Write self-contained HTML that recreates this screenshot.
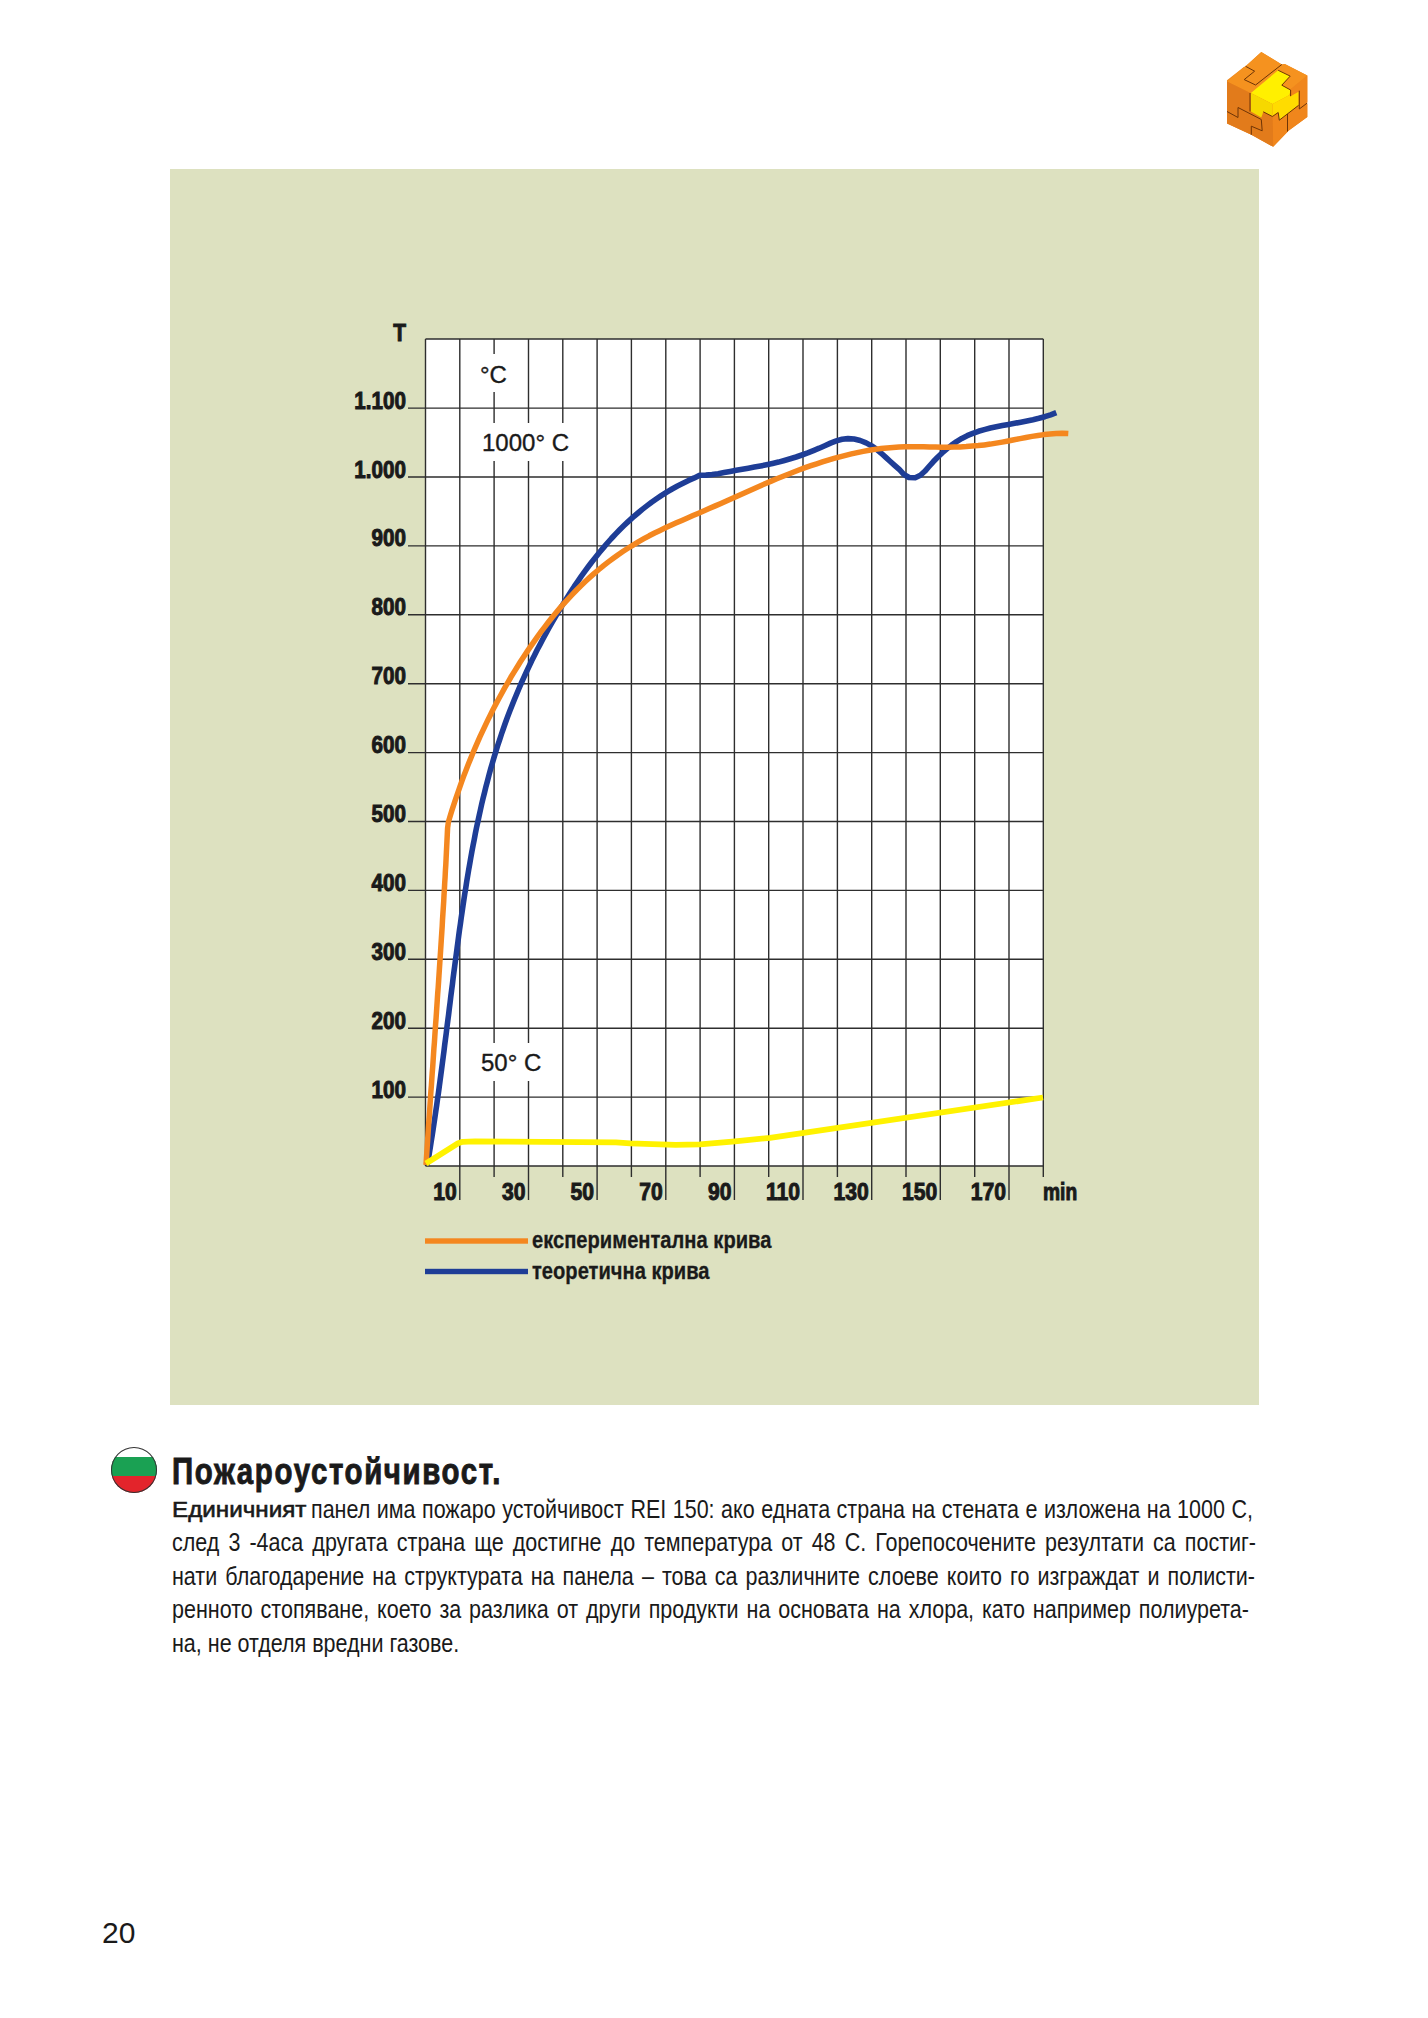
<!DOCTYPE html>
<html><head><meta charset="utf-8"><style>
html,body{margin:0;padding:0;background:#fff;}
body{width:1428px;height:2018px;position:relative;overflow:hidden;font-family:"Liberation Sans",sans-serif;color:#1a1a1a;}
#bg{position:absolute;left:170px;top:169px;width:1089px;height:1236px;background:#dde1c0;}
svg{position:absolute;left:0;top:0;}
svg text{font-family:"Liberation Sans",sans-serif;fill:#1a1a1a;}
.flag{position:absolute;left:111px;top:1446.5px;width:46px;height:46px;border-radius:50%;overflow:hidden;box-shadow:0 0 0 1px #333 inset;
background:linear-gradient(#fff 0,#fff 10px,#1aa153 10px,#1aa153 29px,#e3242b 29px,#e3242b 46px);}
h1{position:absolute;left:172px;top:1452px;margin:0;font-size:36px;font-weight:bold;white-space:nowrap;transform-origin:0 0;transform:scaleX(0.817);letter-spacing:2px;line-height:40px;-webkit-text-stroke:0.9px #1a1a1a;}
.ln{position:absolute;font-size:25px;line-height:33.6px;white-space:nowrap;transform-origin:0 0;transform:scaleX(0.86);}
.b1{position:absolute;left:172px;font-size:22px;line-height:28px;font-weight:normal;-webkit-text-stroke:0.6px #1a1a1a;white-space:nowrap;transform-origin:0 0;transform:scaleX(1.10);}
.pg{position:absolute;left:102px;top:1915px;font-size:30px;line-height:36px;}
</style></head><body>
<div id="bg"></div>
<svg width="1428" height="2018" viewBox="0 0 1428 2018">
<rect x="425.5" y="339.0" width="617.8" height="827.0" fill="#fff"/>
<path d="M425.5 339.0V1166.0M459.8 339.0V1200.0M494.1 339.0V1177.0M528.5 339.0V1200.0M562.8 339.0V1177.0M597.1 339.0V1200.0M631.4 339.0V1177.0M665.8 339.0V1200.0M700.1 339.0V1177.0M734.4 339.0V1200.0M768.7 339.0V1177.0M803.0 339.0V1200.0M837.4 339.0V1177.0M871.7 339.0V1200.0M906.0 339.0V1177.0M940.3 339.0V1200.0M974.7 339.0V1177.0M1009.0 339.0V1200.0M1043.3 339.0V1177.0M425.5 1166.0H1043.3M408 1097.1H1043.3M408 1028.2H1043.3M408 959.3H1043.3M408 890.4H1043.3M408 821.5H1043.3M408 752.6H1043.3M408 683.7H1043.3M408 614.8H1043.3M408 545.9H1043.3M408 477.0H1043.3M408 408.1H1043.3M425.5 339.0H1043.3" stroke="#2e2e2e" stroke-width="1.4" fill="none"/>
<rect x="468" y="354" width="52" height="38" fill="#fff"/>
<rect x="472" y="423" width="110" height="38" fill="#fff"/>
<rect x="472" y="1043" width="80" height="38" fill="#fff"/>
<text transform="translate(480 382.5) scale(1.0 1)" font-size="24" font-weight="normal" text-anchor="start" stroke="#1a1a1a" stroke-width="0.35">°C</text>
<text transform="translate(482 450.5) scale(1.0 1)" font-size="24" font-weight="normal" text-anchor="start" stroke="#1a1a1a" stroke-width="0.35">1000° C</text>
<text transform="translate(481 1070.5) scale(1.0 1)" font-size="24" font-weight="normal" text-anchor="start" stroke="#1a1a1a" stroke-width="0.35">50° C</text>
<text transform="translate(406 1097.6) scale(0.86 1)" font-size="24" font-weight="bold" text-anchor="end" stroke="#1a1a1a" stroke-width="1.0">100</text>
<text transform="translate(406 1028.7) scale(0.86 1)" font-size="24" font-weight="bold" text-anchor="end" stroke="#1a1a1a" stroke-width="1.0">200</text>
<text transform="translate(406 959.8) scale(0.86 1)" font-size="24" font-weight="bold" text-anchor="end" stroke="#1a1a1a" stroke-width="1.0">300</text>
<text transform="translate(406 890.9) scale(0.86 1)" font-size="24" font-weight="bold" text-anchor="end" stroke="#1a1a1a" stroke-width="1.0">400</text>
<text transform="translate(406 822.0) scale(0.86 1)" font-size="24" font-weight="bold" text-anchor="end" stroke="#1a1a1a" stroke-width="1.0">500</text>
<text transform="translate(406 753.0999999999999) scale(0.86 1)" font-size="24" font-weight="bold" text-anchor="end" stroke="#1a1a1a" stroke-width="1.0">600</text>
<text transform="translate(406 684.1999999999999) scale(0.86 1)" font-size="24" font-weight="bold" text-anchor="end" stroke="#1a1a1a" stroke-width="1.0">700</text>
<text transform="translate(406 615.3) scale(0.86 1)" font-size="24" font-weight="bold" text-anchor="end" stroke="#1a1a1a" stroke-width="1.0">800</text>
<text transform="translate(406 546.4) scale(0.86 1)" font-size="24" font-weight="bold" text-anchor="end" stroke="#1a1a1a" stroke-width="1.0">900</text>
<text transform="translate(406 477.5) scale(0.86 1)" font-size="24" font-weight="bold" text-anchor="end" stroke="#1a1a1a" stroke-width="1.0">1.000</text>
<text transform="translate(406 408.5999999999999) scale(0.86 1)" font-size="24" font-weight="bold" text-anchor="end" stroke="#1a1a1a" stroke-width="1.0">1.100</text>
<text transform="translate(406 341) scale(0.87 1)" font-size="24" font-weight="bold" text-anchor="end" stroke="#1a1a1a" stroke-width="1.0">T</text>
<text transform="translate(456.8222222222222 1200) scale(0.88 1)" font-size="24" font-weight="bold" text-anchor="end" stroke="#1a1a1a" stroke-width="1.0">10</text>
<text transform="translate(525.4666666666667 1200) scale(0.88 1)" font-size="24" font-weight="bold" text-anchor="end" stroke="#1a1a1a" stroke-width="1.0">30</text>
<text transform="translate(594.1111111111111 1200) scale(0.88 1)" font-size="24" font-weight="bold" text-anchor="end" stroke="#1a1a1a" stroke-width="1.0">50</text>
<text transform="translate(662.7555555555556 1200) scale(0.88 1)" font-size="24" font-weight="bold" text-anchor="end" stroke="#1a1a1a" stroke-width="1.0">70</text>
<text transform="translate(731.4 1200) scale(0.88 1)" font-size="24" font-weight="bold" text-anchor="end" stroke="#1a1a1a" stroke-width="1.0">90</text>
<text transform="translate(800.0444444444445 1200) scale(0.88 1)" font-size="24" font-weight="bold" text-anchor="end" stroke="#1a1a1a" stroke-width="1.0">110</text>
<text transform="translate(868.6888888888889 1200) scale(0.88 1)" font-size="24" font-weight="bold" text-anchor="end" stroke="#1a1a1a" stroke-width="1.0">130</text>
<text transform="translate(937.3333333333334 1200) scale(0.88 1)" font-size="24" font-weight="bold" text-anchor="end" stroke="#1a1a1a" stroke-width="1.0">150</text>
<text transform="translate(1005.9777777777778 1200) scale(0.88 1)" font-size="24" font-weight="bold" text-anchor="end" stroke="#1a1a1a" stroke-width="1.0">170</text>
<text transform="translate(1043 1200) scale(0.8 1)" font-size="24" font-weight="bold" text-anchor="start" stroke="#1a1a1a" stroke-width="1.0">min</text>
<path d="M427.0 1165.0 L428.3 1159.2 L429.3 1153.2 L430.3 1147.2 L431.2 1141.3 L432.2 1135.3 L433.1 1129.3 L434.0 1123.3 L434.9 1117.3 L435.8 1111.2 L436.7 1105.2 L437.5 1099.2 L438.4 1093.2 L439.2 1087.2 L440.0 1081.1 L440.8 1075.1 L441.6 1069.1 L442.4 1063.0 L443.2 1057.0 L444.0 1050.9 L444.7 1044.9 L445.5 1038.8 L446.3 1032.8 L447.0 1026.7 L447.8 1020.7 L448.6 1014.6 L449.3 1008.6 L450.1 1002.5 L450.8 996.5 L451.6 990.4 L452.4 984.3 L453.1 978.3 L453.9 972.2 L454.7 966.2 L455.5 960.1 L456.3 954.1 L457.1 948.0 L457.9 942.0 L458.7 935.9 L459.5 929.9 L460.4 923.8 L461.2 917.8 L462.1 911.8 L463.0 905.7 L463.9 899.7 L464.8 893.7 L465.8 887.7 L466.7 881.6 L467.7 875.6 L468.7 869.6 L469.8 863.6 L470.8 857.6 L471.9 851.6 L473.0 845.7 L474.2 839.7 L475.3 833.7 L476.5 827.8 L477.8 821.8 L479.1 815.9 L480.4 810.0 L481.7 804.0 L483.1 798.1 L484.6 792.3 L486.0 786.4 L487.6 780.5 L489.1 774.6 L490.7 768.8 L492.4 763.0 L494.1 757.1 L495.9 751.3 L497.7 745.5 L499.6 739.8 L501.5 734.0 L503.5 728.3 L505.5 722.5 L507.6 716.8 L509.8 711.1 L512.0 705.5 L514.3 699.8 L516.6 694.2 L519.0 688.5 L521.4 682.9 L523.9 677.4 L526.5 671.8 L529.1 666.3 L531.7 660.7 L534.5 655.3 L537.2 649.8 L540.1 644.4 L542.9 639.0 L545.8 633.6 L548.8 628.2 L551.8 622.9 L554.9 617.6 L558.0 612.3 L561.2 607.1 L564.4 601.9 L567.7 596.7 L571.0 591.5 L574.3 586.4 L577.8 581.4 L581.2 576.4 L584.8 571.4 L588.4 566.5 L592.0 561.7 L595.8 556.9 L599.6 552.2 L603.5 547.6 L607.4 543.0 L611.4 538.5 L615.5 534.1 L619.7 529.8 L624.0 525.6 L628.4 521.4 L632.8 517.4 L637.4 513.5 L642.0 509.6 L646.8 505.9 L651.6 502.3 L656.6 498.8 L661.6 495.4 L666.8 492.1 L672.1 489.0 L677.5 486.0 L683.0 483.2 L688.6 480.4 L694.3 477.9 L699.7 475.2 L705.9 475.1 L712.0 474.5 L718.1 473.7 L724.1 472.6 L730.2 471.4 L736.2 470.3 L742.3 469.2 L748.3 468.2 L754.4 467.1 L760.5 466.0 L766.5 464.8 L772.5 463.5 L778.5 462.1 L784.4 460.5 L790.3 458.8 L796.1 457.0 L801.9 455.0 L807.7 452.9 L813.4 450.6 L819.2 448.2 L824.8 445.7 L830.5 443.1 L836.3 440.9 L842.1 439.3 L848.0 438.6 L854.1 439.0 L860.2 440.5 L866.1 442.9 L871.6 445.9 L876.6 449.4 L881.3 453.3 L885.8 457.4 L890.3 461.5 L894.9 465.6 L899.5 469.7 L903.8 474.3 L909.0 477.5 L915.2 477.7 L920.4 475.3 L924.8 471.3 L929.0 466.5 L933.2 461.8 L937.6 457.3 L942.1 453.0 L946.8 448.9 L951.6 445.1 L956.6 441.6 L961.8 438.4 L967.2 435.7 L972.8 433.4 L978.5 431.3 L984.3 429.6 L990.3 428.0 L996.3 426.7 L1002.4 425.5 L1008.5 424.4 L1014.7 423.3 L1020.8 422.2 L1026.9 421.0 L1033.0 419.7 L1038.9 418.3 L1044.8 416.7 L1050.6 414.8 L1056.3 412.6" stroke="#1e3d96" stroke-width="5.6" fill="none" stroke-linejoin="round"/>
<path d="M426.0 1165.0 L426.4 1158.9 L426.8 1152.7 L427.2 1146.6 L427.6 1140.5 L428.0 1134.4 L428.4 1128.2 L428.8 1122.1 L429.3 1116.0 L429.7 1109.9 L430.1 1103.7 L430.5 1097.6 L430.9 1091.5 L431.4 1085.4 L431.8 1079.2 L432.2 1073.1 L432.7 1067.0 L433.1 1060.9 L433.5 1054.7 L433.9 1048.6 L434.4 1042.5 L434.8 1036.4 L435.2 1030.2 L435.6 1024.1 L436.1 1018.0 L436.5 1011.9 L436.9 1005.7 L437.3 999.6 L437.7 993.5 L438.2 987.4 L438.6 981.2 L439.0 975.1 L439.4 969.0 L439.8 962.9 L440.2 956.7 L440.6 950.6 L441.0 944.5 L441.4 938.3 L441.8 932.2 L442.2 926.1 L442.5 920.0 L442.9 913.8 L443.3 907.7 L443.7 901.6 L444.0 895.4 L444.4 889.3 L444.7 883.2 L445.1 877.1 L445.4 870.9 L445.8 864.8 L446.1 858.7 L446.4 852.5 L446.7 846.4 L447.0 840.3 L447.3 834.1 L447.6 828.0 L448.4 822.0 L450.1 816.2 L451.9 810.4 L453.8 804.6 L455.7 798.8 L457.7 793.1 L459.7 787.3 L461.7 781.6 L463.8 775.9 L466.0 770.2 L468.2 764.6 L470.5 758.9 L472.8 753.3 L475.2 747.7 L477.6 742.2 L480.0 736.6 L482.6 731.1 L485.2 725.6 L487.8 720.1 L490.5 714.7 L493.2 709.2 L496.0 703.9 L498.9 698.5 L501.8 693.2 L504.7 687.9 L507.8 682.6 L510.8 677.3 L514.0 672.1 L517.2 667.0 L520.4 661.8 L523.7 656.7 L527.1 651.6 L530.5 646.6 L534.0 641.6 L537.5 636.6 L541.1 631.7 L544.8 626.8 L548.5 622.0 L552.3 617.2 L556.2 612.5 L560.1 607.9 L564.1 603.3 L568.2 598.8 L572.4 594.4 L576.6 590.0 L580.9 585.7 L585.3 581.5 L589.8 577.4 L594.3 573.4 L598.9 569.5 L603.6 565.6 L608.4 561.9 L613.3 558.3 L618.2 554.7 L623.2 551.3 L628.3 548.0 L633.5 544.8 L638.7 541.6 L643.9 538.7 L649.2 535.8 L654.6 533.0 L660.0 530.4 L665.4 527.8 L670.9 525.3 L676.4 522.8 L681.9 520.4 L687.5 518.0 L693.0 515.6 L698.6 513.2 L704.2 510.8 L709.7 508.3 L715.3 505.9 L720.9 503.4 L726.4 500.9 L732.0 498.4 L737.6 495.9 L743.2 493.4 L748.8 490.9 L754.4 488.4 L760.0 486.0 L765.6 483.5 L771.2 481.1 L776.8 478.8 L782.5 476.5 L788.2 474.2 L793.8 472.0 L799.5 469.8 L805.2 467.7 L810.9 465.7 L816.7 463.8 L822.4 461.9 L828.2 460.1 L834.0 458.4 L839.8 456.8 L845.6 455.3 L851.4 453.9 L857.3 452.6 L863.2 451.4 L869.1 450.3 L875.0 449.4 L881.0 448.6 L887.0 447.9 L893.0 447.4 L899.0 447.0 L905.1 446.8 L911.2 446.7 L917.3 446.7 L923.5 446.8 L929.6 447.0 L935.7 447.1 L941.8 447.2 L948.0 447.2 L954.0 447.1 L960.1 446.9 L966.2 446.6 L972.2 446.1 L978.2 445.6 L984.3 444.9 L990.2 444.1 L996.2 443.1 L1002.2 442.1 L1008.1 441.0 L1014.1 439.8 L1020.1 438.6 L1026.0 437.5 L1032.0 436.4 L1038.0 435.5 L1044.0 434.6 L1050.0 434.0 L1056.1 433.5 L1062.2 433.2 L1068.3 433.6" stroke="#f4871f" stroke-width="5.5" fill="none" stroke-linejoin="round"/>
<path d="M426 1163.5L458.1 1143.2L462.7 1141.8L475 1141.4L616 1142.3L630 1143.4L675.5 1144.8L700 1144.4L735 1141.3L770 1137.8L1043 1097.5" stroke="#fff200" stroke-width="5.8" fill="none" stroke-linejoin="round"/>
<rect x="425" y="1238.3" width="103" height="5.4" fill="#f4871f"/>
<rect x="425" y="1268.8" width="103" height="5.4" fill="#1e3d96"/>
<text transform="translate(532 1248) scale(0.876 1)" font-size="23" font-weight="bold" text-anchor="start" stroke="#1a1a1a" stroke-width="0.3">експериментална крива</text>
<text transform="translate(532 1278.5) scale(0.876 1)" font-size="23" font-weight="bold" text-anchor="start" stroke="#1a1a1a" stroke-width="0.3">теоретична крива</text>
<polygon points="1261.3,52.0 1281.8,64.5 1284.8,64.1 1307.3,75.4 1307.3,102.0 1306.3,103.2 1307.3,104.0 1307.3,117.0 1288.5,130.8 1287.9,131.5 1273.2,146.8 1251.3,134.8 1227.0,123.5 1227.0,80.3 1243.3,67.6 1245.6,66.3" fill="#ee861c"/>
<polygon points="1261.3,52.0 1281.8,64.5 1284.8,64.1 1307.3,75.4 1272.6,104.0 1227.0,81.5 1243.3,67.6 1245.6,66.3" fill="#f5921f"/>
<polygon points="1227.0,81.5 1272.6,104.0 1273.2,146.8 1251.3,134.8 1227.0,123.5" fill="#e27b1b"/>
<polygon points="1272.6,104.0 1307.3,75.4 1307.3,117.0 1288.5,130.8 1273.2,146.8" fill="#f0861c"/>
<polygon points="1278.2,70.3 1290.2,76.1 1281.8,85.2 1290.6,90.0 1289.5,95.0 1272.6,104.0 1250.9,92.9" fill="#fff000"/>
<polygon points="1250.9,92.9 1272.6,104.0 1272.4,116.5 1263.3,111.8 1261.3,117.5 1250.9,111.5" fill="#f6d800"/>
<polygon points="1272.6,104.0 1289.5,95.0 1290.6,96.2 1298.6,91.8 1298.6,105.3 1279.3,120.2 1278.2,112.5 1272.4,116.5" fill="#ffdc00"/>
<polyline points="1245.6,66.3 1254.6,71.2 1244.2,79.6 1255.6,85.0 1281.8,64.5" fill="none" stroke="#6e3406" stroke-width="1"/>
<polyline points="1278.2,70.3 1290.2,76.1 1281.8,85.2 1290.6,90.0 1290.6,96.2" fill="none" stroke="#6e3406" stroke-width="1"/>
<polyline points="1250.0,93.0 1250.0,111.5" fill="none" stroke="#6e3406" stroke-width="1"/>
<polyline points="1227.0,111.5 1238.0,117.5 1238.0,107.5 1261.3,119.5 1262.2,130.8 1251.3,126.2 1251.3,134.8" fill="none" stroke="#6e3406" stroke-width="1"/>
<polyline points="1263.3,111.8 1272.4,116.5 1278.2,112.5 1279.3,120.2 1298.6,105.3" fill="none" stroke="#6e3406" stroke-width="1"/>
<polyline points="1287.5,114.0 1287.5,131.5" fill="none" stroke="#6e3406" stroke-width="1"/>
<polyline points="1299.3,90.7 1299.3,109.0 1307.0,103.2" fill="none" stroke="#6e3406" stroke-width="1"/>
</svg>
<div class="flag"></div>
<h1>Пожароустойчивост.</h1>
<div class="b1" style="top:1495.7px">Единичният</div>
<div class="ln" style="left:311px;top:1492.5px;width:1095.3px;text-align:justify;text-align-last:justify;">панел има пожаро устойчивост REI 150: ако едната страна на стената е изложена на 1000 C,</div>
<div class="ln" style="left:172px;top:1526.1px;width:1260.5px;text-align:justify;text-align-last:justify;">след 3 -4аса другата страна ще достигне до температура от 48 C. Горепосочените резултати са постиг-</div>
<div class="ln" style="left:172px;top:1559.7px;width:1259.3px;text-align:justify;text-align-last:justify;">нати благодарение на структурата на панела – това са различните слоеве които го изграждат и полисти-</div>
<div class="ln" style="left:172px;top:1593.3px;width:1252.3px;text-align:justify;text-align-last:justify;">ренното стопяване, което за разлика от други продукти на основата на хлора, като например полиурета-</div>
<div class="ln" style="left:172px;top:1626.9px">на, не отделя вредни газове.</div>
<div class="pg">20</div>
</body></html>
